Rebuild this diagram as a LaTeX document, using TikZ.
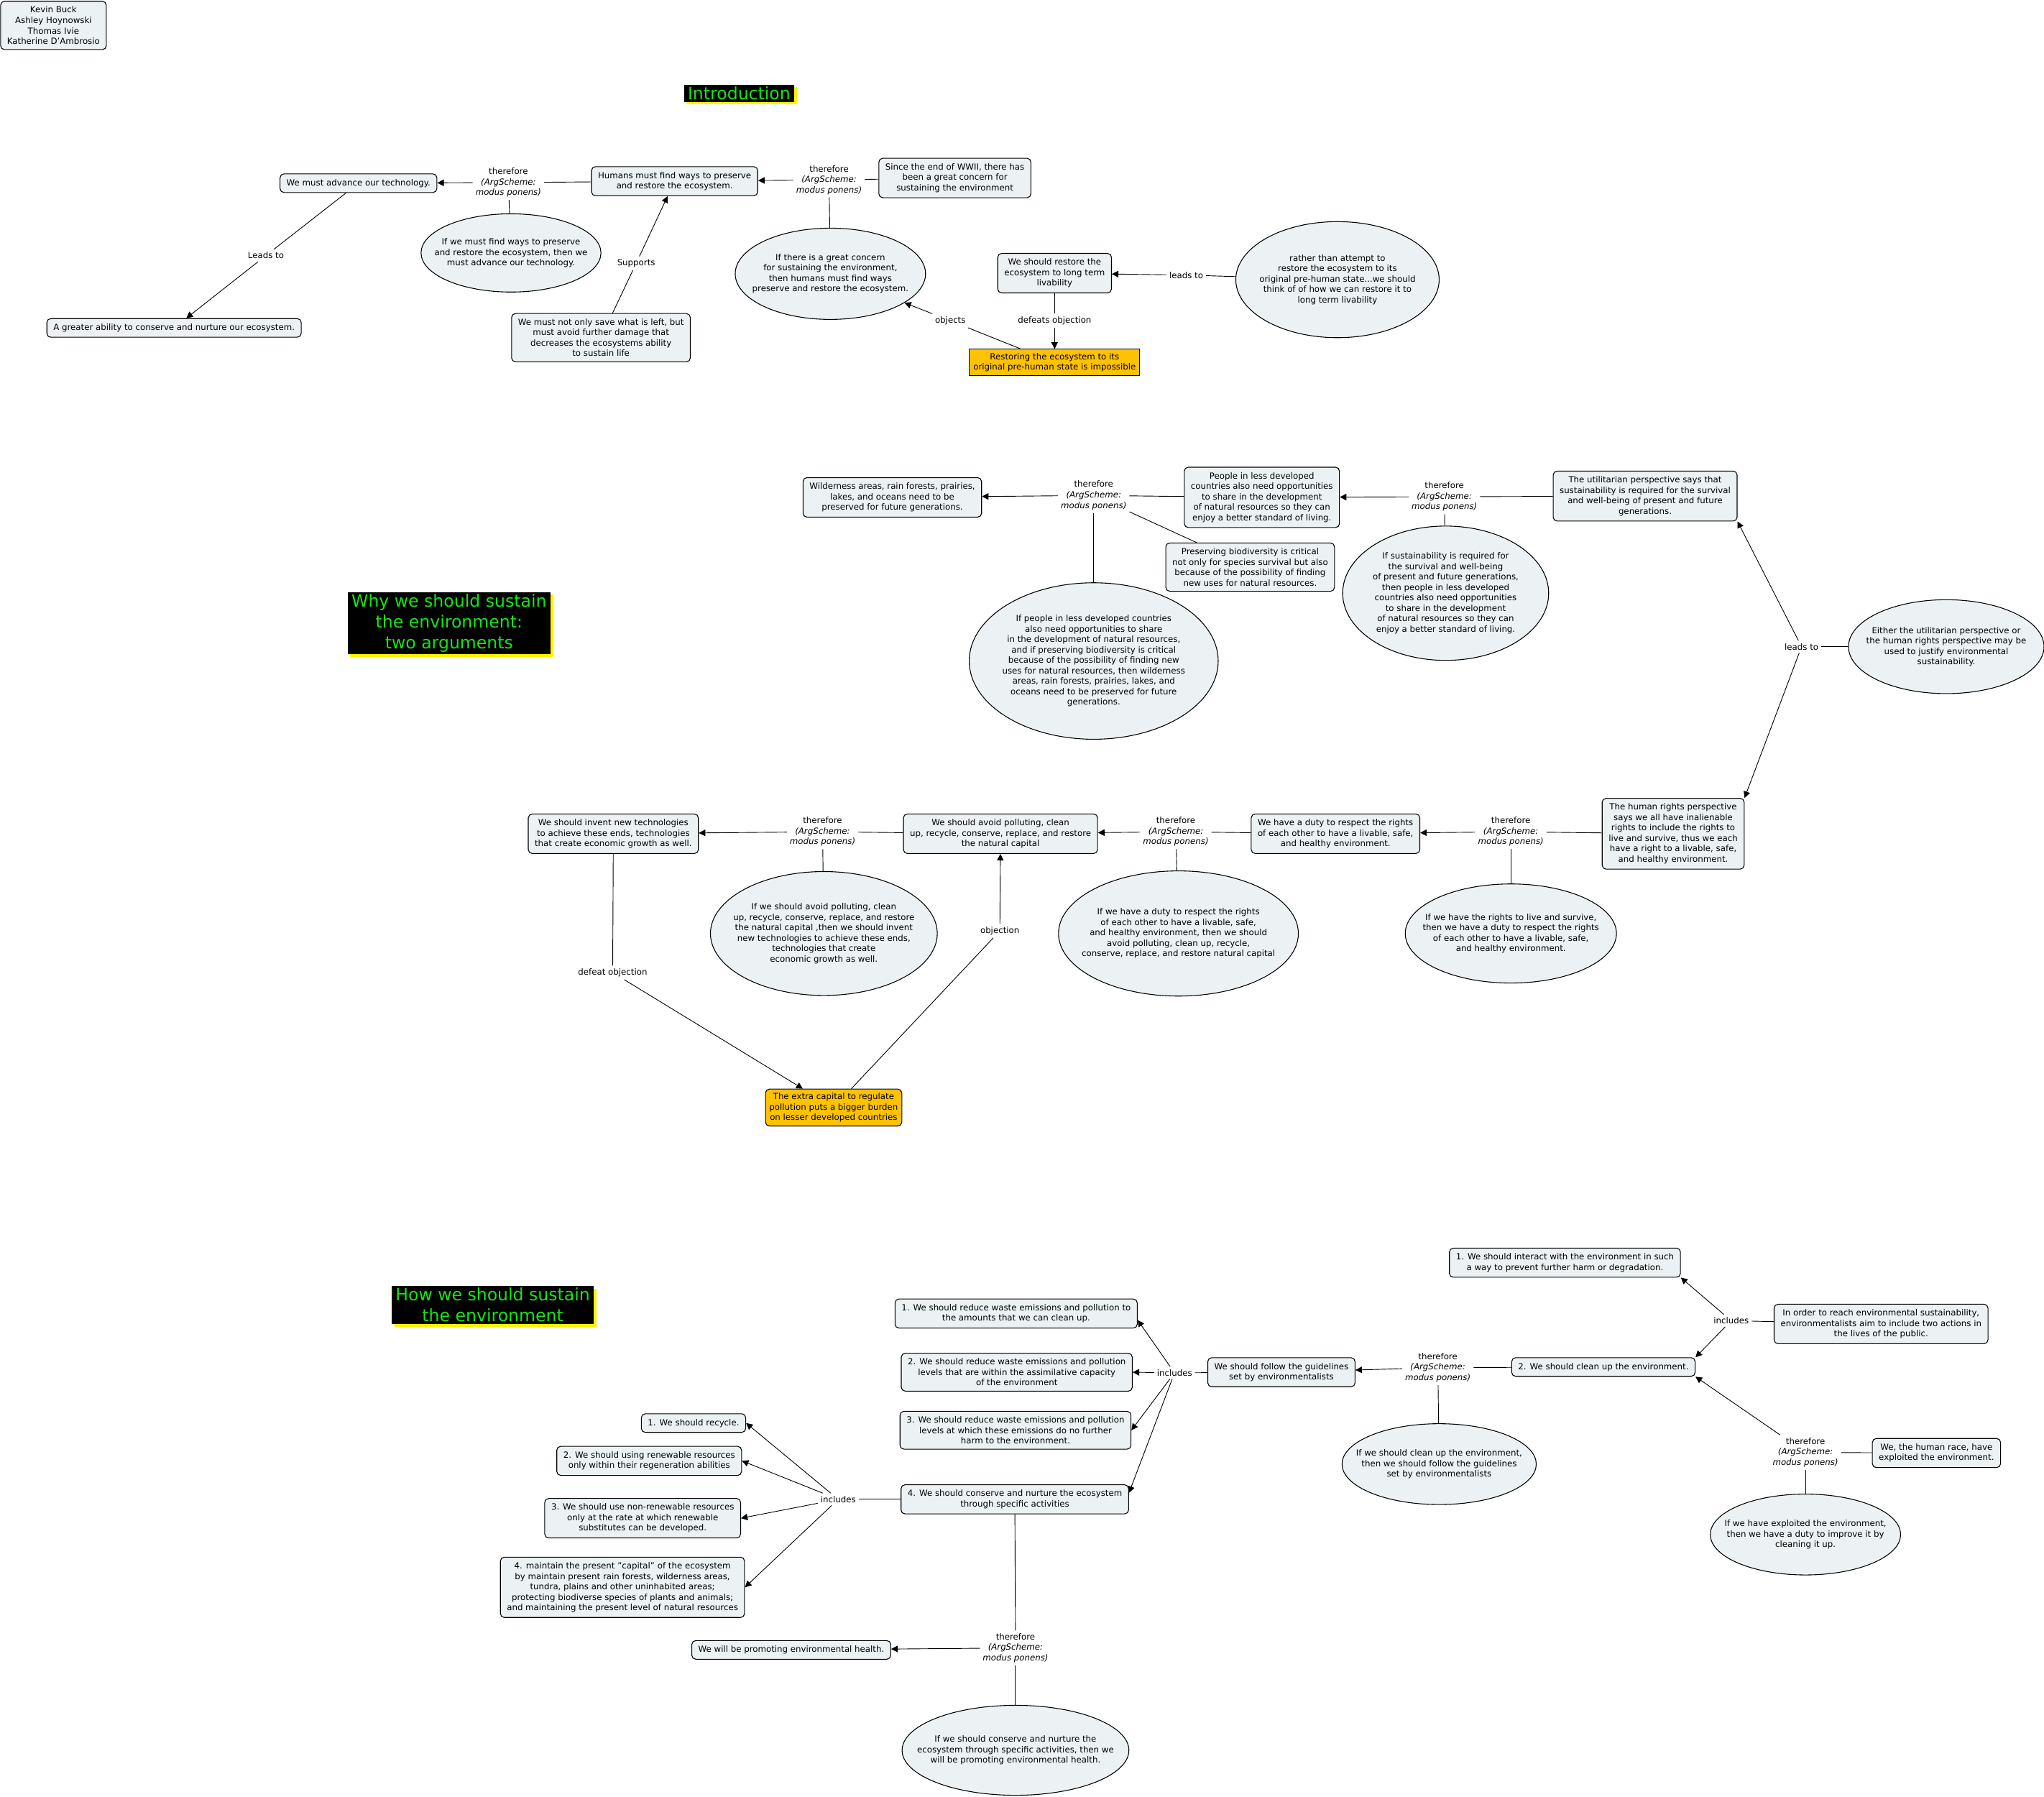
\documentclass[tikz,border=0pt]{standalone}
\usepackage{fontspec}
\setmainfont{DejaVu Sans}
\usepackage{tikz}
\usetikzlibrary{shapes.geometric,arrows.meta,shadows}
\definecolor{nodefill}{RGB}{236,242,244}
\definecolor{warnfill}{RGB}{255,194,0}
\definecolor{titlegreen}{RGB}{20,230,20}
\pgfkeys{tikz/prop/.style={draw,fill=nodefill,rounded corners=3pt,align=center,inner xsep=5pt,inner ysep=4pt,line width=0.6pt}}
\pgfkeys{tikz/cond/.style 2 args={ellipse,draw,fill=nodefill,align=center,inner xsep=-30pt,inner ysep=-12pt,minimum width=#1,minimum height=#2,line width=0.6pt}}
\pgfkeys{tikz/objbox/.style={draw,fill=warnfill,align=center,inner xsep=3pt,inner ysep=3pt,line width=0.6pt}}
\pgfkeys{tikz/heading/.style={fill=black,text=titlegreen,align=center,font=\fontsize{13}{16}\selectfont,inner xsep=3pt,inner ysep=1.5pt,drop shadow={fill=yellow,opacity=1,shadow xshift=2pt,shadow yshift=-2pt}}}
\pgfkeys{tikz/lbl/.style={align=center,inner sep=2pt}}
\pgfkeys{tikz/arr/.style={-{Triangle[length=5pt,width=5pt]}}}
\newcommand*\mponens[2]{\node [lbl] (#1) at (#2) {therefore\\\textit{(ArgScheme:}\\\textit{modus ponens)}};}

\begin{document}
\begin{tikzpicture}[x=1pt,y=-1pt,line width=0.5pt,font=\fontsize{6.5}{8}\selectfont]
\fill [white] (0,0) rectangle (1568,1378);
\useasboundingbox (0,0) rectangle (1568,1378);

% authors
\node [prop] (authors) at (41,19.5) {Kevin Buck\\Ashley Hoynowski\\Thomas Ivie\\Katherine D'Ambrosio};

% introduction
\node [heading] (intro) at (567,71.5) {Introduction};
\node [prop] (tech) at (275,140.5) {We must advance our technology.};
\node [prop] (greater) at (133.5,251.5) {A greater ability to conserve and nurture our ecosystem.};
\node [prop] (humans) at (517.5,139) {Humans must find ways to preserve\\and restore the ecosystem.};
\node [prop] (mustnot) at (461,259) {We must not only save what is left, but\\must avoid further damage that\\decreases the ecosystems ability\\to sustain life};
\node [prop] (since) at (732.5,136.5) {Since the end of WWII, there has\\been a great concern for\\sustaining the environment};
\node [prop] (restore) at (809,209.5) {We should restore the\\ecosystem to long term\\livability};
\node [objbox] (impossible) at (809,278) {Restoring the ecosystem to its\\original pre-human state is impossible};
\node [cond={138pt}{60pt}] (ifmust) at (392,194) {If we must find ways to preserve\\and restore the ecosystem, then we\\must advance our technology.};
\node [cond={146pt}{70pt}] (ifgreat) at (637,210) {If there is a great concern\\for sustaining the environment,\\then humans must find ways\\preserve and restore the ecosystem.};
\node [cond={156pt}{89pt}] (rather) at (1026,214.5) {rather than attempt to\\restore the ecosystem to its\\original pre-human state...we should\\think of of how we can restore it to\\long term livability};
\mponens{mp1}{390,140}
\mponens{mp2}{636,138}
\node [lbl] (lead1) at (204,196) {Leads to};
\node [lbl] (supp) at (488,202) {Supports};
\node [lbl] (lead2) at (910,211) {leads to};
\node [lbl] (defeat1) at (809,246) {defeats objection};
\node [lbl] (obj1) at (729,246) {objects};

\draw (humans) -- (mp1);
\draw [arr] (mp1) -- (tech);
\draw (ifmust) -- (mp1);
\draw (tech) -- (lead1);
\draw [arr] (lead1) -- (greater);
\draw (mustnot) -- (supp);
\draw [arr] (supp) -- (humans);
\draw (since) -- (mp2);
\draw [arr] (mp2) -- (humans);
\draw (ifgreat) -- (mp2);
\draw (rather) -- (lead2);
\draw [arr] (lead2) -- (restore);
\draw (restore) -- (defeat1);
\draw [arr] (defeat1) -- (impossible);
\draw (impossible) -- (obj1);
\draw [arr] (obj1) -- (ifgreat);

% why we should sustain
\node [heading] (why) at (344.5,478) {Why we should sustain\\the environment:\\two arguments};
\node [prop] (wild) at (684.5,381.5) {Wilderness areas, rain forests, prairies,\\lakes, and oceans need to be\\preserved for future generations.};
\node [prop] (people) at (968,381.5) {People in less developed\\countries also need opportunities\\to share in the development\\of natural resources so they can\\enjoy a better standard of living.};
\node [prop] (biodiv) at (959,435) {Preserving biodiversity is critical\\not only for species survival but also\\because of the possibility of finding\\new uses for natural resources.};
\node [prop] (util) at (1262,380.5) {The utilitarian perspective says that\\sustainability is required for the survival\\and well-being of present and future\\generations.};
\node [prop] (human) at (1283.5,639.5) {The human rights perspective\\says we all have inalienable\\rights to include the rights to\\live and survive, thus we each\\have a right to a livable, safe,\\and healthy environment.};
\node [prop] (duty) at (1024.5,639.5) {We have a duty to respect the rights\\of each other to have a livable, safe,\\and healthy environment.};
\node [prop] (avoid) at (767.5,639.5) {We should avoid polluting, clean\\up, recycle, conserve, replace, and restore\\the natural capital};
\node [prop] (invent) at (470.5,639.5) {We should invent new technologies\\to achieve these ends, technologies\\that create economic growth as well.};
\node [objbox,rounded corners=3pt] (extra) at (639.5,849.5) {The extra capital to regulate\\pollution puts a bigger burden\\on lesser developed countries};
\node [cond={191pt}{120pt}] (ifpeople) at (839,507) {If people in less developed countries\\also need opportunities to share\\in the development of natural resources,\\and if preserving biodiversity is critical\\because of the possibility of finding new\\uses for natural resources, then wilderness\\areas, rain forests, prairies, lakes, and\\oceans need to be preserved for future\\generations.};
\node [cond={158pt}{103pt}] (ifsust) at (1109,455) {If sustainability is required for\\the survival and well-being\\of present and future generations,\\then people in less developed\\countries also need opportunities\\to share in the development\\of natural resources so they can\\enjoy a better standard of living.};
\node [cond={150pt}{72pt}] (either) at (1493,496) {Either the utilitarian perspective or\\the human rights perspective may be\\used to justify environmental\\sustainability.};
\node [cond={162pt}{76pt}] (ifrights) at (1159,716) {If we have the rights to live and survive,\\then we have a duty to respect the rights\\of each other to have a livable, safe,\\and healthy environment.};
\node [cond={184pt}{96pt}] (ifduty) at (904,716) {If we have a duty to respect the rights\\of each other to have a livable, safe,\\and healthy environment, then we should\\avoid polluting, clean up, recycle,\\conserve, replace, and restore natural capital};
\node [cond={174pt}{95pt}] (ifavoid) at (632,716) {If we should avoid polluting, clean\\up, recycle, conserve, replace, and restore\\the natural capital ,then we should invent\\new technologies to achieve these ends,\\technologies that create\\economic growth as well.};
\mponens{mp3}{839,380}
\mponens{mp4}{1108,381}
\mponens{mp5}{1159,638}
\mponens{mp6}{902,638}
\mponens{mp7}{631,638}
\node [lbl] (lead3) at (1382,496) {leads to};
\node [lbl] (defeat2) at (470,746) {defeat objection};
\node [lbl] (obj2) at (767,714) {objection};

\draw (people) -- (mp3);
\draw [arr] (mp3) -- (wild);
\draw (biodiv) -- (mp3);
\draw (ifpeople) -- (mp3);
\draw (util) -- (mp4);
\draw [arr] (mp4) -- (people);
\draw (ifsust) -- (mp4);
\draw (either) -- (lead3);
\draw [arr] (lead3) -- (util.south east);
\draw [arr] (lead3) -- (human.north east);
\draw (human) -- (mp5);
\draw [arr] (mp5) -- (duty);
\draw (ifrights) -- (mp5);
\draw (duty) -- (mp6);
\draw [arr] (mp6) -- (avoid);
\draw (ifduty) -- (mp6);
\draw (avoid) -- (mp7);
\draw [arr] (mp7) -- (invent);
\draw (ifavoid) -- (mp7);
\draw (invent) -- (defeat2);
\draw [arr] (defeat2) -- (extra);
\draw (extra) -- (obj2);
\draw [arr] (obj2) -- (avoid);

% how we should sustain
\node [heading] (how) at (378,1001) {How we should sustain\\the environment};
\node [prop] (interact) at (1200.5,968.5) {1. We should interact with the environment in such\\a way to prevent further harm or degradation.};
\node [prop] (inorder) at (1443,1015.5) {In order to reach environmental sustainability,\\environmentalists aim to include two actions in\\the lives of the public.};
\node [prop] (cleanup) at (1230,1048.5) {2. We should clean up the environment.};
\node [prop] (exploited) at (1485.5,1114.5) {We, the human race, have\\exploited the environment.};
\node [prop] (follow) at (983,1052.5) {We should follow the guidelines\\set by environmentalists};
\node [prop] (red1) at (779.5,1007.5) {1. We should reduce waste emissions and pollution to\\the amounts that we can clean up.};
\node [prop] (red2) at (780,1052.5) {2. We should reduce waste emissions and pollution\\levels that are within the assimilative capacity\\of the environment};
\node [prop] (red3) at (779,1097) {3. We should reduce waste emissions and pollution\\levels at which these emissions do no further\\harm to the environment.};
\node [prop] (conserve) at (778.5,1150) {4. We should conserve and nurture the ecosystem\\through specific activities};
\node [prop] (recycle) at (532,1091.5) {1. We should recycle.};
\node [prop] (renew) at (498,1120.5) {2. We should using renewable resources\\only within their regeneration abilities};
\node [prop] (nonrenew) at (493,1164.5) {3. We should use non-renewable resources\\only at the rate at which renewable\\substitutes can be developed.};
\node [prop] (maintain) at (477.5,1217.5) {4. maintain the present "capital" of the ecosystem\\by maintain present rain forests, wilderness areas,\\tundra, plains and other uninhabited areas;\\protecting biodiverse species of plants and animals;\\and maintaining the present level of natural resources};
\node [prop] (promote) at (607,1265.5) {We will be promoting environmental health.};
\node [cond={146pt}{62pt}] (ifexpl) at (1385,1177) {If we have exploited the environment,\\then we have a duty to improve it by\\cleaning it up.};
\node [cond={149pt}{62pt}] (ifclean) at (1104,1123) {If we should clean up the environment,\\then we should follow the guidelines\\set by environmentalists};
\node [cond={174pt}{69pt}] (ifcons) at (779,1342.5) {If we should conserve and nurture the\\ecosystem through specific activities, then we\\will be promoting environmental health.};
\mponens{mp8}{1385,1114}
\mponens{mp9}{1103,1049}
\mponens{mp10}{779,1264}
\node [lbl] (incl1) at (1328,1013) {includes};
\node [lbl] (incl2) at (901,1053) {includes};
\node [lbl] (incl3) at (643,1150) {includes};

\draw (inorder) -- (incl1);
\draw [arr] (incl1) -- (interact.south east);
\draw [arr] (incl1) -- (cleanup.north east);
\draw (exploited) -- (mp8);
\draw [arr] (mp8) -- (cleanup.south east);
\draw (ifexpl) -- (mp8);
\draw (cleanup) -- (mp9);
\draw [arr] (mp9) -- (follow);
\draw (ifclean) -- (mp9);
\draw (follow) -- (incl2);
\foreach \t/\s in {red1/-5pt,red2/0pt,red3/0pt,conserve/5pt}
  \draw [arr] (incl2) -- ([yshift=\s]\t.east);
\draw (conserve) -- (incl3);
\foreach \t in {recycle,renew,nonrenew,maintain}
  \draw [arr] (incl3) -- (\t.east);
\draw (conserve) -- (mp10);
\draw [arr] (mp10) -- (promote);
\draw (ifcons) -- (mp10);

\end{tikzpicture}
\end{document}
